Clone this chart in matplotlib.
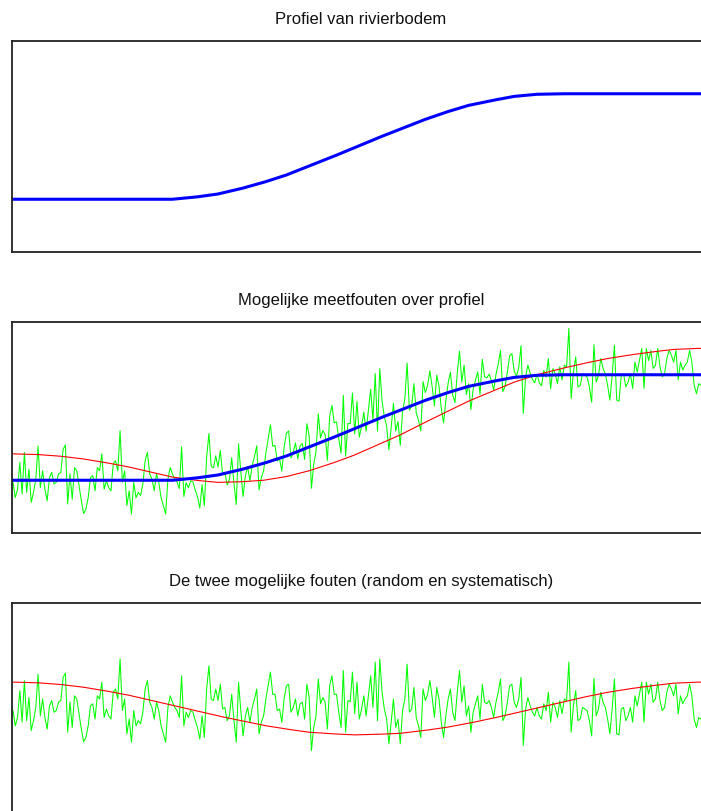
import numpy as np
import matplotlib
matplotlib.use("Agg")
import matplotlib.pyplot as plt

titles = ["Profiel van rivierbodem",
          "Mogelijke meetfouten over profiel",
          "De twee mogelijke fouten (random en systematisch)"]

# knot positions (sample index) for the smooth curves
knot_idx = list(range(0, 310, 10))
# river bed profile at knots
profile = [1.00, 1.00, 1.00, 1.00, 1.00, 1.00, 1.00, 1.00, 1.04, 1.10,
           1.20, 1.32, 1.46, 1.63, 1.80, 1.98, 2.16, 2.33, 2.50, 2.65,
           2.78, 2.87, 2.95, 2.99, 3.00, 3.00, 3.00, 3.00, 3.00, 3.00, 3.00]
# systematic error at knots
systematic = [0.50, 0.49, 0.46, 0.41, 0.34, 0.26, 0.16, 0.06, -0.04, -0.14,
              -0.23, -0.32, -0.39, -0.45, -0.48, -0.50, -0.49, -0.47, -0.42, -0.36,
              -0.28, -0.19, -0.09, 0.01, 0.11, 0.21, 0.30, 0.37, 0.43, 0.48, 0.50]
# random error, one value per sample
random_err = [
    -0.04, -0.33, -0.17, 0.34, -0.26, 0.53, -0.23, 0.21, -0.42, -0.23,
    0.02, 0.65, -0.14, 0.18, -0.17, -0.39, 0.05, 0.15, -0.07, -0.04,
    0.12, 0.15, 0.59, 0.67, -0.45, 0.12, -0.36, 0.24, 0.18, -0.10,
    -0.39, -0.63, -0.55, -0.33, 0.05, 0.09, -0.20, 0.24, 0.18, 0.50,
    -0.17, -0.01, -0.14, -0.20, 0.31,
    0.37, 0.18, 0.94, -0.04, 0.18, -0.48, -0.20, -0.64, -0.04, -0.33,
    -0.23, -0.29, -0.07, 0.37, 0.53, 0.12, 0.02, -0.20, 0.12, -0.04,
    -0.33, -0.48, -0.64, 0.02, 0.24, 0.12, 0.02, -0.04, -0.17, 0.62,
    -0.33, -0.07, -0.17, -0.04, -0.07, -0.23, -0.36, -0.58, -0.14, -0.55,
    0.37, 0.81, 0.18, 0.15, 0.37, 0.15, 0.46, -0.01, 0.02, -0.23,
    -0.14, 0.27, -0.23, -0.64, 0.50, -0.04, -0.52, -0.14, 0.02, -0.26,
    0.02, 0.18, 0.37, -0.48, -0.26, -0.14, 0.18, 0.43, 0.69, 0.27,
    0.27, -0.04, -0.01, -0.26, 0.18, 0.43, 0.46, -0.07, 0.02, 0.18,
    -0.14, 0.09, 0.12, -0.20, 0.46, 0.21, -0.80, -0.36, -0.14, 0.56,
    0.09, 0.21, 0.12, -0.39, 0.43, 0.62, 0.27, 0.27,
    -0.07, -0.36, 0.72, -0.45, 0.15, 0.13, 0.69, -0.10, 0.50, -0.20,
    -0.01, 0.24, -0.14, 0.24, 0.62, 0.02, 0.88, -0.23, 0.94, 0.31,
    -0.01, -0.20, -0.67, -0.26, 0.18, -0.36, -0.20, -0.67, -0.04, 0.18,
    0.84, -0.07, -0.01, 0.40, -0.17, -0.33, -0.55, 0.37, 0.15, 0.27,
    0.53, 0.21, -0.17, 0.40, 0.18, -0.26, -0.55, -0.14, 0.18, 0.37,
    -0.07, -0.23,
    0.31, 0.72, 0.12, 0.43, -0.14, 0.05, -0.45, -0.07, 0.09, 0.24,
    -0.20, 0.46, 0.12, 0.09, 0.15, 0.02, -0.17, 0.12, 0.31, 0.56,
    -0.23, -0.14, 0.12, 0.43, 0.46, 0.12, 0.02, 0.18, 0.59, -0.70,
    -0.01, 0.21, 0.05, -0.07, -0.14, 0.02, -0.14, -0.20, 0.09, -0.04,
    0.31, -0.26, 0.12, 0.02, -0.17, 0.15, -0.10, 0.18, 0.15, 0.88,
    -0.45, 0.05, 0.34, -0.23, -0.20,
    0.02, -0.01, -0.04, -0.23, -0.52, 0.57, -0.14, -0.01, 0.31, 0.12,
    0.02, -0.20, -0.48, -0.01, 0.56, -0.48, -0.50, -0.01, 0.02, -0.23,
    -0.14, 0.02, -0.26, 0.24, 0.05, 0.27, 0.50, -0.26, 0.50, 0.27,
    0.46, 0.12, 0.18, 0.50, 0.15, -0.04, 0.02, 0.31, 0.46, 0.37,
    0.24, 0.46, -0.10, 0.24, 0.09, 0.18, 0.24, 0.46, 0.24, -0.20,
    -0.36, -0.17, -0.20,
]

n = len(random_err)
idx = np.arange(n)
prof_s = np.interp(idx, knot_idx, profile)
sys_s = np.interp(idx, knot_idx, systematic)
noise = np.array(random_err)

W, H = 701, 812
fig = plt.figure(figsize=(W / 100, H / 100), dpi=100)

left_px, right_px = 12, 710
panels_px = [(42, 253), (323, 534), (604, 815)]
first_px, last_px = 13, 701
spacing = (last_px - first_px) / (n - 1)
xlim = (-(first_px - left_px) / spacing, (n - 1) + (right_px - last_px) / spacing)

axes = []
for top, bot in panels_px:
    ax = fig.add_axes([left_px / W, 1 - bot / H, (right_px - left_px) / W, (bot - top) / H])
    ax.set_xlim(*xlim)
    ax.set_xticks([])
    ax.set_yticks([])
    for s in ax.spines.values():
        s.set_linewidth(1.3)
        s.set_color("#222222")
    axes.append(ax)

tkw = dict(fontsize=12, pad=13, fontfamily=["Liberation Sans", "DejaVu Sans"],
           color="#111111")

ax1, ax2, ax3 = axes
ax1.plot(idx, prof_s, color="#0000ff", lw=2.2)
ax1.set_ylim(0, 4)
ax1.set_title(titles[0], **tkw)

ax2.plot(idx, prof_s + noise, color="#00ff00", lw=0.75)
ax2.plot(idx, prof_s + sys_s, color="#ff0000", lw=0.8)
ax2.plot(idx, prof_s, color="#0000ff", lw=2.2)
ax2.set_ylim(0, 4)
ax2.set_title(titles[1], **tkw)

ax3.plot(idx, noise, color="#00ff00", lw=0.75)
ax3.plot(idx, sys_s, color="#ff0000", lw=0.8)
ax3.set_ylim(-2, 2)
ax3.set_title(titles[2], **tkw)

fig.savefig("out.png", dpi=100)
